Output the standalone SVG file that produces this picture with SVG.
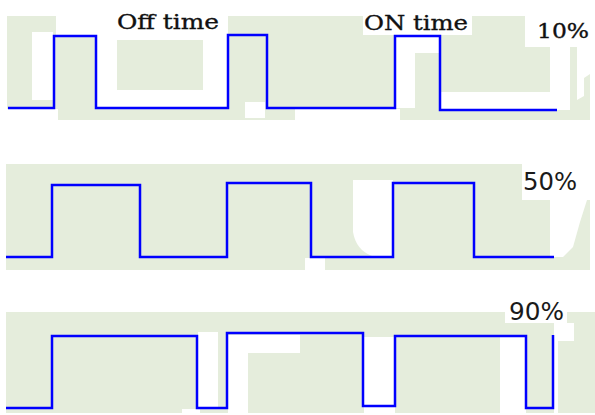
<svg xmlns="http://www.w3.org/2000/svg" width="595" height="415" viewBox="0 0 595 415">
<style>
.g{fill:#e5eddc}
.w{fill:#ffffff}
.wave{fill:none;stroke:#0000ff;stroke-width:2.5;stroke-linejoin:miter;stroke-linecap:butt}
.lbl{font-family:"DejaVu Serif","Liberation Serif",serif;font-size:20px;fill:#111;stroke:#111;stroke-width:0.35}
.pct{font-family:"DejaVu Sans","Liberation Sans",sans-serif;font-size:24px;fill:#1a1a1a}
</style>
<rect x="0" y="0" width="595" height="415" fill="#ffffff"/>
<g id="panel-10">
  <rect class="g" x="7" y="16" width="583" height="104"/>
  <rect class="w" x="7" y="109" width="51" height="11"/>
  <rect class="w" x="32" y="32" width="21" height="68"/>
  <rect class="w" x="56" y="16" width="172" height="19"/>
  <rect class="w" x="97" y="35" width="131" height="73"/>
  <rect class="g" x="117" y="40" width="86" height="50"/>
  <rect class="w" x="245" y="102" width="20" height="16"/>
  <rect class="w" x="295" y="109" width="105" height="11"/>
  <rect class="w" x="363" y="0" width="109" height="35"/>
  <rect class="w" x="396" y="37" width="19" height="71"/>
  <rect class="w" x="415" y="37" width="25" height="16"/>
  <rect class="w" x="441" y="92" width="116" height="17"/>
  <rect class="w" x="525" y="16" width="65" height="31"/>
  <rect class="w" x="550" y="47" width="20" height="63"/>
  <polygon class="w" points="577,47 590,47 590,74 584,78 584,96 577,100"/>
  <path class="wave" d="M8,108 H54 V36 H96 V108 H228 V35 H267 V108 H395 V36 H440 V110 H557"/>
  <text class="lbl" x="117" y="29" textLength="102" lengthAdjust="spacingAndGlyphs">Off time</text>
  <text class="lbl" x="364" y="30" textLength="104" lengthAdjust="spacingAndGlyphs">ON time</text>
  <text class="lbl" x="537" y="38" font-size="22" textLength="52" lengthAdjust="spacingAndGlyphs">10%</text>
</g>
<g id="panel-50">
  <rect class="g" x="6" y="164" width="584" height="106"/>
  <path class="w" d="M353,180 H393 V256 H372 Q356,250 353,232 Z"/>
  <rect class="w" x="305" y="258" width="20" height="12"/>
  <rect class="w" x="522" y="164" width="68" height="36"/>
  <polygon class="w" points="550,200 587,200 580,222 573,247 563,257 550,257"/>
  <path class="wave" d="M6,257 H52 V185 H140 V257 H227 V183 H311 V257 H393 V183 H474 V257 H554"/>
  <text class="pct" x="523" y="190" textLength="54" lengthAdjust="spacingAndGlyphs">50%</text>
</g>
<g id="panel-90">
  <rect class="g" x="6" y="312" width="589" height="101"/>
  <rect class="w" x="198" y="332" width="20" height="76"/>
  <rect class="w" x="182" y="409" width="18" height="6"/>
  <rect class="w" x="228" y="335" width="72" height="18"/>
  <rect class="w" x="228" y="353" width="20" height="62"/>
  <rect class="w" x="364" y="337" width="31" height="78"/>
  <rect class="w" x="500" y="336" width="26" height="79"/>
  <rect class="w" x="505" y="296" width="62" height="27"/>
  <rect class="w" x="554" y="323" width="20" height="18"/>
  <rect class="w" x="554" y="341" width="4" height="72"/>
  <path class="wave" d="M6,408 H52 V336 H197 V408 H227 V333 H363 V406 H395 V336 H526 V408 H553 V335"/>
  <text class="pct" x="509" y="320" textLength="55" lengthAdjust="spacingAndGlyphs">90%</text>
</g>
</svg>
